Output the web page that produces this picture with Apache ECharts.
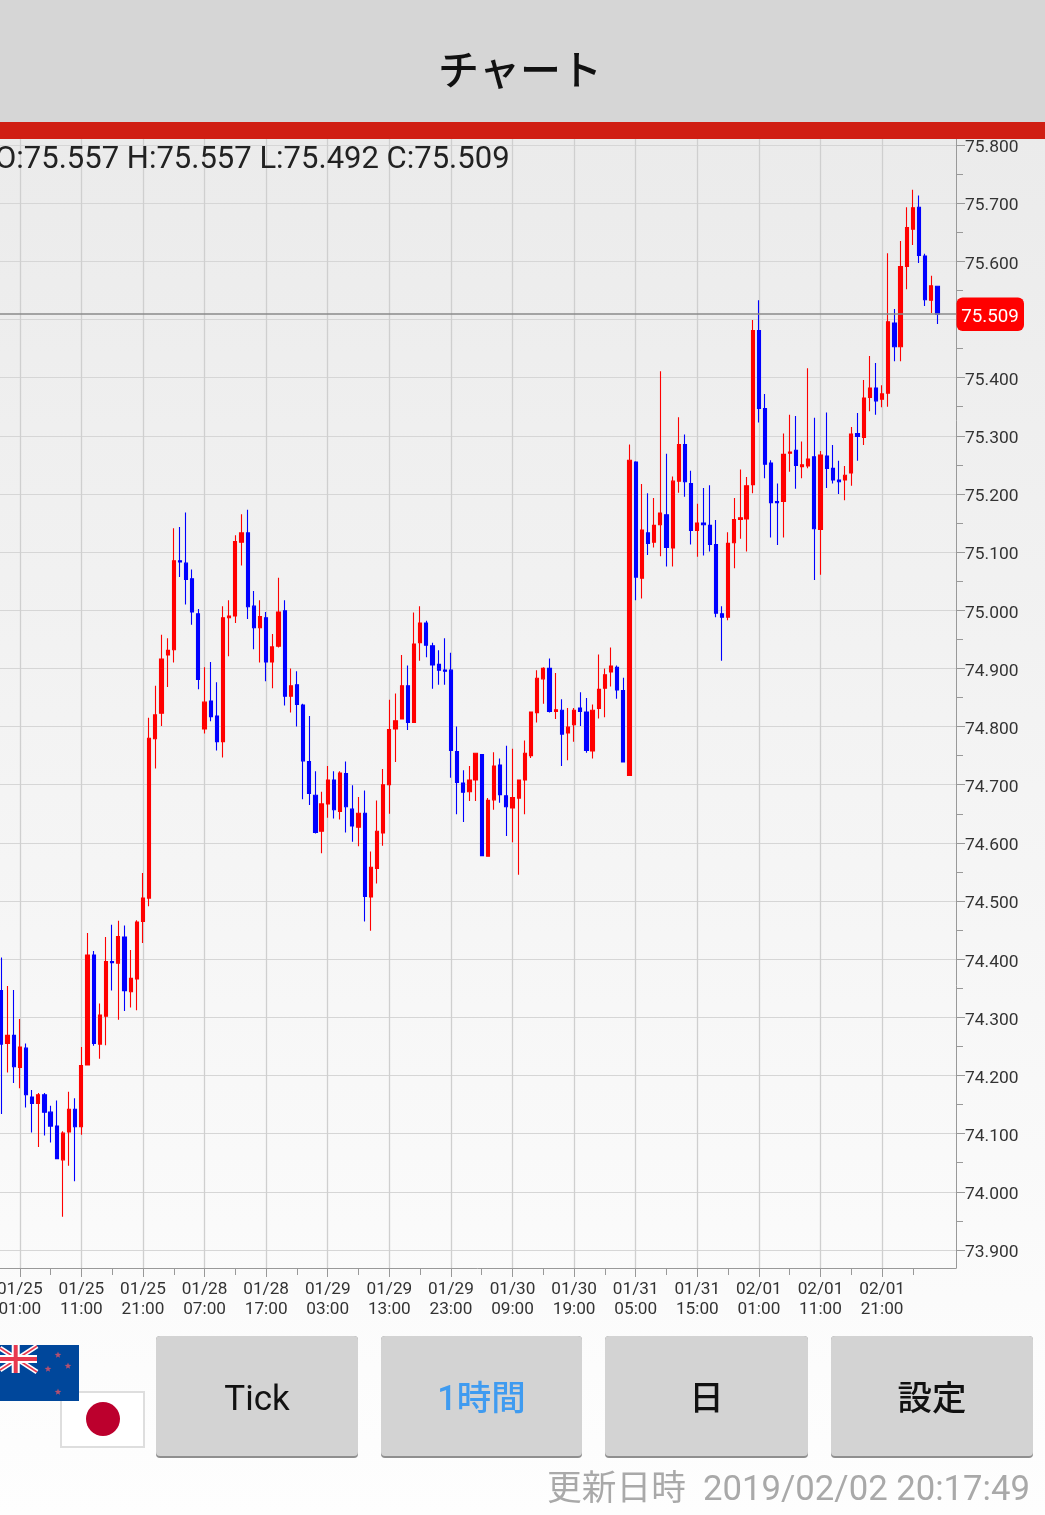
<!DOCTYPE html>
<html><head><meta charset="utf-8">
<script src="https://cdn.jsdelivr.net/npm/echarts@6/dist/echarts.min.js"></script>
<style>
html,body{margin:0;padding:0;width:1045px;height:1515px;overflow:hidden;background:linear-gradient(#ebebeb 0,#ebebeb 138px,#fefefe 1515px);}
#c{width:1045px;height:1515px;}
</style></head><body><div id="c"></div>
<script>
const opens=[74.346,74.255,74.269,74.214,74.247,74.163,74.152,74.167,74.137,74.113,
74.055,74.103,74.142,74.112,74.218,74.407,74.254,74.302,74.396,74.393,
74.438,74.344,74.366,74.465,74.505,74.779,74.823,74.923,74.932,75.085,
75.081,75.054,74.994,74.796,74.844,74.818,74.774,74.987,74.990,75.117,
75.133,75.007,74.970,74.987,74.911,74.938,74.999,74.852,74.872,74.837,
74.740,74.682,74.620,74.667,74.708,74.654,74.719,74.658,74.627,74.651,
74.507,74.556,74.617,74.700,74.796,74.813,74.870,74.807,74.944,74.978,
74.939,74.907,74.897,74.897,74.757,74.703,74.688,74.708,74.752,74.577,
74.674,74.734,74.681,74.660,74.677,74.708,74.750,74.824,74.882,74.900,
74.826,74.828,74.789,74.803,74.832,74.825,74.758,74.831,74.866,74.894,
74.902,74.862,74.716,75.255,75.055,75.133,75.117,75.147,75.164,75.107,
75.222,75.285,75.218,75.137,75.150,75.146,75.113,74.994,74.988,75.116,
75.156,75.157,75.216,75.481,75.347,75.253,75.187,75.187,75.270,75.275,
75.247,75.248,75.264,75.139,75.265,75.244,75.224,75.224,75.236,75.304,
75.297,75.366,75.382,75.363,75.373,75.494,75.453,75.591,75.655,75.693,
75.609,75.533,75.557];
const closes=[74.254,74.269,74.215,74.249,74.167,74.152,74.167,74.137,74.113,74.057,
74.101,74.142,74.112,74.217,74.407,74.255,74.304,74.396,74.394,74.439,
74.346,74.367,74.464,74.505,74.780,74.820,74.916,74.931,75.085,75.083,
75.053,74.997,74.881,74.842,74.817,74.774,74.987,74.990,75.118,75.133,
75.006,74.970,74.989,74.911,74.937,74.997,74.852,74.870,74.838,74.741,
74.685,74.618,74.667,74.708,74.657,74.720,74.662,74.629,74.651,74.508,
74.558,74.620,74.700,74.795,74.810,74.870,74.807,74.942,74.978,74.940,
74.906,74.897,74.895,74.759,74.704,74.687,74.708,74.754,74.578,74.673,
74.732,74.683,74.662,74.678,74.708,74.754,74.825,74.883,74.900,74.826,
74.829,74.787,74.799,74.828,74.826,74.759,74.828,74.864,74.889,74.904,
74.863,74.739,75.258,75.057,75.138,75.115,75.146,75.167,75.108,75.222,
75.285,75.221,75.137,75.150,75.147,75.113,74.995,74.988,75.115,75.156,
75.159,75.214,75.481,75.347,75.251,75.185,75.185,75.268,75.272,75.249,
75.250,75.260,75.140,75.267,75.244,75.224,75.221,75.232,75.303,75.299,
75.365,75.382,75.360,75.372,75.496,75.453,75.591,75.658,75.692,75.610,
75.534,75.558,75.509];
const lows=[74.134,74.205,74.187,74.178,74.145,74.102,74.077,74.097,74.085,74.057,
73.957,74.045,74.018,74.098,74.217,74.251,74.229,74.252,74.346,74.296,
74.311,74.317,74.312,74.428,74.491,74.728,74.801,74.868,74.910,75.057,
75.010,74.975,74.864,74.788,74.809,74.759,74.747,74.921,74.978,75.077,
74.985,74.933,74.910,74.878,74.866,74.936,74.836,74.824,74.800,74.675,
74.665,74.616,74.582,74.643,74.642,74.640,74.618,74.602,74.594,74.465,
74.449,74.530,74.595,74.650,74.739,74.813,74.794,74.807,74.913,74.919,
74.865,74.872,74.872,74.712,74.649,74.636,74.672,74.672,74.577,74.576,
74.657,74.669,74.612,74.601,74.545,74.649,74.746,74.807,74.839,74.824,
74.813,74.732,74.742,74.774,74.801,74.755,74.745,74.814,74.816,74.869,
74.848,74.738,74.715,75.017,75.020,75.095,75.108,75.093,75.075,75.075,
75.202,75.195,75.113,75.092,75.094,75.101,74.988,74.913,74.983,75.072,
75.123,75.101,75.201,75.323,75.227,75.125,75.112,75.125,75.238,75.209,
75.227,75.244,75.052,75.061,75.210,75.218,75.200,75.189,75.214,75.257,
75.284,75.342,75.336,75.349,75.350,75.428,75.428,75.552,75.628,75.597,
75.523,75.511,75.492];
const highs=[74.403,74.354,74.347,74.297,74.255,74.175,74.170,74.170,74.148,74.157,
74.104,74.172,74.161,74.249,74.445,74.414,74.324,74.438,74.459,74.466,
74.458,74.416,74.467,74.548,74.815,74.870,74.958,74.952,75.141,75.143,
75.168,75.070,75.002,74.902,74.911,74.876,75.007,75.017,75.129,75.165,
75.173,75.033,75.017,74.997,74.959,75.056,75.017,74.900,74.895,74.839,
74.818,74.723,74.688,74.732,74.723,74.723,74.740,74.699,74.679,74.690,
74.585,74.673,74.727,74.846,74.857,74.923,74.905,74.996,75.007,74.982,
74.944,74.931,74.952,74.927,74.800,74.725,74.732,74.755,74.753,74.677,
74.756,74.745,74.767,74.762,74.709,74.776,74.826,74.897,74.902,74.917,
74.892,74.847,74.832,74.832,74.859,74.849,74.838,74.924,74.900,74.936,
74.905,74.884,75.285,75.256,75.217,75.201,75.193,75.411,75.269,75.230,
75.332,75.302,75.240,75.183,75.210,75.215,75.155,75.007,75.134,75.193,
75.242,75.229,75.499,75.533,75.372,75.258,75.218,75.304,75.336,75.334,
75.290,75.416,75.331,75.274,75.340,75.284,75.257,75.248,75.315,75.339,
75.396,75.437,75.425,75.387,75.614,75.518,75.635,75.693,75.723,75.713,
75.613,75.575,75.557];
const timeLabels=['01/25\n01:00','01/25\n11:00','01/25\n21:00','01/28\n07:00','01/28\n17:00','01/29\n03:00','01/29\n13:00','01/29\n23:00','01/30\n09:00','01/30\n19:00','01/31\n05:00','01/31\n15:00','02/01\n01:00','02/01\n11:00','02/01\n21:00'];
const priceLabels=[73.9,74.0,74.1,74.2,74.3,74.4,74.5,74.6,74.7,74.8,74.9,75.0,75.1,75.2,75.3,75.4,75.5,75.6,75.7,75.8];
const priceMinorTicks=[73.95,74.05,74.15,74.25,74.35,74.45,74.55,74.65,74.75,74.85,74.95,75.05,75.15,75.25,75.35,75.45,75.55,75.65,75.75];
const currentPrice=75.509;
const buttonLabels=['Tick','1時間','日','設定'];
const titleText='チャート';
const updatedText='更新日時  2019/02/02 20:17:49';

const N=157;
const cats=[];for(let i=0;i<N;i++)cats.push(String(i));
const candles=[['-','-','-','-']];
for(let i=0;i<opens.length;i++)candles.push([opens[i],closes[i],lows[i],highs[i]]);
const last=opens.length-1;
const ohlc=`O:${opens[last].toFixed(3)} H:${highs[last].toFixed(3)} L:${lows[last].toFixed(3)} C:${closes[last].toFixed(3)}`;
const ffL='Roboto,"Noto Sans CJK JP"';
const ffJ='"Noto Sans CJK JP",Roboto';
const isMajor=(i)=>i%10===4&&i<=144;
const isMinor=(i)=>i%5===4&&i<=149;

function star(cx,cy,r){const p=[];for(let i=0;i<10;i++){const a=-Math.PI/2+i*Math.PI/5,q=i%2?r*0.42:r;p.push([cx+q*Math.cos(a),cy+q*Math.sin(a)]);}return p;}
const g=[];
g.push({type:'rect',shape:{x:0,y:0,width:1045,height:122},style:{fill:'#d6d6d6'},z:100});
g.push({type:'rect',shape:{x:0,y:122,width:1045,height:17},style:{fill:'#d01e13'},z:100});
g.push({type:'text',x:520,y:69,style:{text:titleText,font:'500 41px '+ffJ,fill:'#111',textAlign:'center',textVerticalAlign:'middle'},z:101});
g.push({type:'text',x:-5,y:160,style:{text:ohlc,font:'31px '+ffL,fill:'#222',textAlign:'left',textVerticalAlign:'middle'},z:101});
// flags
g.push({type:'rect',shape:{x:61,y:1392,width:83,height:55},style:{fill:'#fff',stroke:'#dedede',lineWidth:2},z:100});
g.push({type:'circle',shape:{cx:103,cy:1419,r:17},style:{fill:'#bc002d'},z:101});
g.push({type:'rect',shape:{x:0,y:1345,width:79,height:56},style:{fill:'#00479b'},z:102});
const ln=(x1,y1,x2,y2,c,w)=>({type:'line',shape:{x1,y1,x2,y2},style:{stroke:c,lineWidth:w},z:103});
const cc=15.7,cy=1359,cr=37,ct=1345,cb=1373;
g.push(ln(0,1348,cr,cb-1,'#fff',5),ln(0,1370,cr,ct+1,'#fff',5));
g.push(ln(0,1348,cr,cb-1,'#e8394f',1.6),ln(0,1370,cr,ct+1,'#e8394f',1.6));
g.push({type:'rect',shape:{x:0,y:cy-4,width:cr,height:8},style:{fill:'#fff'},z:103});
g.push({type:'rect',shape:{x:cc-4,y:ct,width:8,height:cb-ct},style:{fill:'#fff'},z:103});
g.push({type:'rect',shape:{x:0,y:cy-2,width:cr,height:4},style:{fill:'#e8394f'},z:103});
g.push({type:'rect',shape:{x:cc-2,y:ct,width:4,height:cb-ct},style:{fill:'#e8394f'},z:103});
[[58,1355],[68,1366],[48,1369],[58,1392]].forEach(s=>g.push({type:'polygon',shape:{points:star(s[0],s[1],3.5)},style:{fill:'#b5506f'},z:103}));
// buttons
const bx=[[156,358],[381,582],[605,808],[831,1033]];
buttonLabels.forEach((t,i)=>{
  const [a,b]=bx[i];
  g.push({type:'rect',shape:{x:a,y:1336,width:b-a,height:122,r:4},style:{fill:'#8f8f8f'},z:100});
  g.push({type:'rect',shape:{x:a,y:1336,width:b-a,height:120,r:4},style:{fill:'#d3d3d3'},z:100});
  g.push({type:'text',x:(a+b)/2,y:1401,style:{text:t,font:(i===0?'35px ':'500 34.5px ')+ffL,fill:i===1?'#3f9bf0':'#111',textAlign:'center',textVerticalAlign:'middle'},z:101});
});
g.push({type:'text',x:1030,y:1491,style:{text:updatedText,font:'34.7px '+ffL,fill:'#a9a9a9',textAlign:'right',textVerticalAlign:'middle'},z:101});

const chart=echarts.init(document.getElementById('c'),null,{renderer:'canvas',width:1045,height:1515});
chart.setOption({
  animation:false,
  backgroundColor:'transparent',
  grid:{left:-4.86,right:89,top:138,bottom:247,containLabel:false,outerBoundsMode:'none'},
  xAxis:[{type:'category',data:cats,boundaryGap:false,
    axisLine:{show:true,lineStyle:{color:'#999',width:1}},
    axisTick:{show:true,length:7,interval:isMinor,lineStyle:{color:'#999',width:1}},
    axisLabel:{show:true,interval:isMajor,hideOverlap:false,margin:11,color:'#333',fontFamily:'Roboto',fontSize:17.2,lineHeight:20.5,
      formatter:(v)=>{const i=+v;return i%10===4?timeLabels[(i-4)/10]:'';}},
    splitLine:{show:true,interval:isMajor,lineStyle:{color:'#cfcfcf',width:1.3}}
  },{type:'category',data:cats,boundaryGap:false,position:'bottom',
    axisLine:{show:false},
    axisTick:{show:true,length:9,interval:isMajor,lineStyle:{color:'#999',width:1}},
    axisLabel:{show:false},splitLine:{show:false}
  }],
  yAxis:[{type:'value',position:'right',min:73.869,max:75.812,scale:true,
    axisLine:{show:true,lineStyle:{color:'#999',width:1}},
    axisTick:{show:true,length:9,customValues:priceLabels,lineStyle:{color:'#999',width:1}},
    axisLabel:{show:true,customValues:priceLabels,margin:9,verticalAlign:'top',lineHeight:6,color:'#333',fontFamily:'Roboto',fontSize:17.4,formatter:(v)=>v.toFixed(3)},
    splitLine:{show:true,lineStyle:{color:'#d6d6d6',width:1.2}}
  },{type:'value',position:'right',min:73.869,max:75.812,scale:true,
    axisLine:{show:false},
    axisTick:{show:true,length:7,customValues:priceMinorTicks,lineStyle:{color:'#999',width:1}},
    axisLabel:{show:false},splitLine:{show:false}
  }],
  series:[{type:'candlestick',data:candles,barWidth:3.7,silent:true,
    itemStyle:{color:'#ff0000',color0:'#0000ff',borderColor:'#ff0000',borderColor0:'#0000ff',borderWidth:1.1},
    markLine:{silent:true,symbol:'none',animation:false,
      lineStyle:{color:'#8a8a8a',width:1.5,type:'solid'},
      label:{show:false},
      data:[{yAxis:currentPrice}]}
  }],
  graphic:{elements:g}
});
// current-price tag follows the value through the axis scale
const py=chart.convertToPixel({yAxisIndex:0},currentPrice);
chart.setOption({graphic:{elements:g.concat([
  {type:'rect',shape:{x:956.5,y:py-16.7,width:67.5,height:33.4,r:6},style:{fill:'#ff0000'},z:104},
  {type:'text',x:990,y:py+3,style:{text:currentPrice.toFixed(3),font:'18.8px Roboto',fill:'#fff',textAlign:'center',textVerticalAlign:'middle'},z:105}
])}});
</script></body></html>
